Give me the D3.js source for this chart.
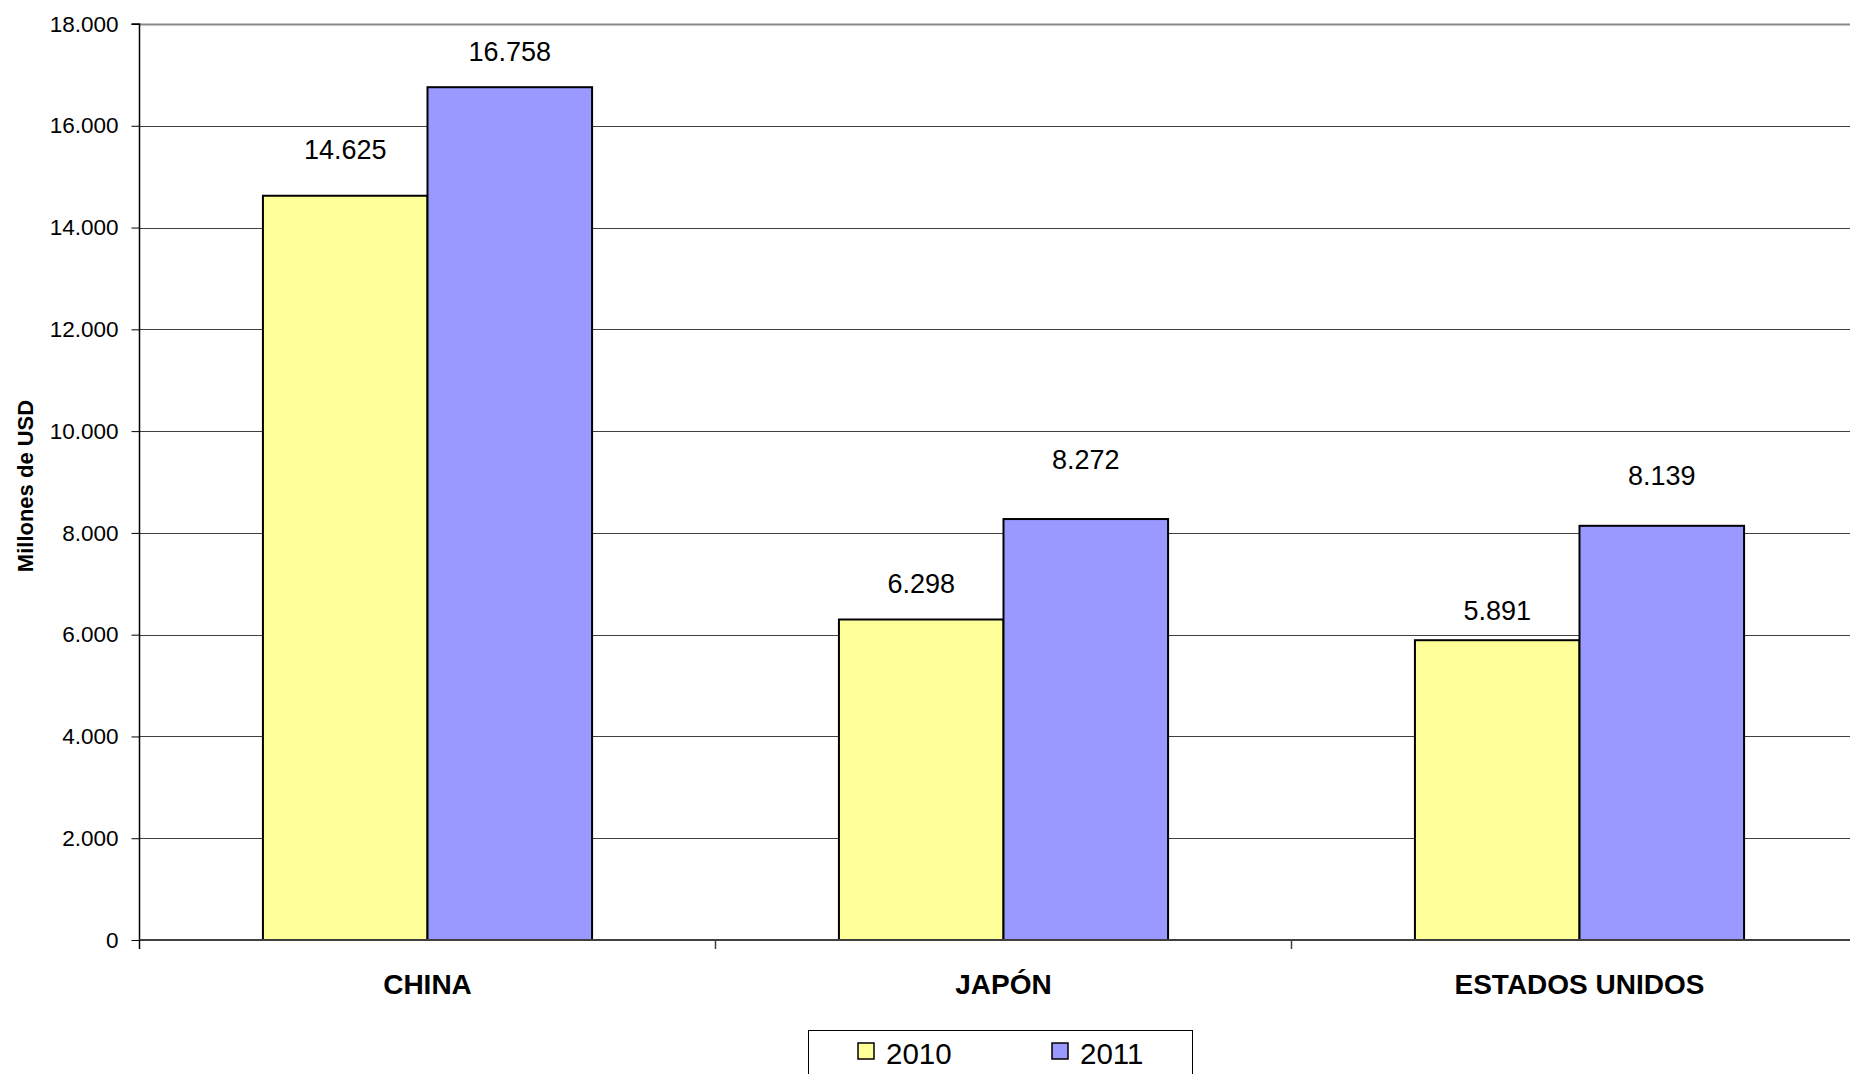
<!DOCTYPE html>
<html>
<head>
<meta charset="utf-8">
<script src="https://cdn.jsdelivr.net/npm/d3@7"></script>
<style>
  html, body { margin: 0; padding: 0; background: #fff; overflow: hidden; }
  svg { display: block; font-family: "Liberation Sans", Arial, sans-serif; }
</style>
</head>
<body>
<svg id="chart" width="1850" height="1074"></svg>
<script>
// ---- data ----
const categories = ["CHINA", "JAPÓN", "ESTADOS UNIDOS"];
const seriesNames = ["2010", "2011"];
const values2010 = [14625, 6298, 5891];
const values2011 = [16758, 8272, 8139];
const yTicks = [0, 2000, 4000, 6000, 8000, 10000, 12000, 14000, 16000, 18000];
const yTitle = "Millones de USD";

// ---- layout / style ----
const colors = ["#FFFF99", "#9999FF"];
const plot = { left: 139.5, top: 24, bottom: 940, catWidth: 576 };
const labelLift = [[37, 27, 20], [26, 50, 41]]; // px gap between bar top and label baseline

const svg = d3.select("#chart");
const fmt = v => d3.format(",")(v).replace(/,/g, ".");

const x0 = d3.scaleBand()
  .domain(categories)
  .range([plot.left, plot.left + plot.catWidth * categories.length])
  .paddingInner(0).paddingOuter(0);
// Excel gap width 150% -> two bars take 2/3.5 of category
const barW = x0.bandwidth() / 3.5;
const x1 = d3.scaleBand().domain(seriesNames).range([0, barW * 2]);
const y = d3.scaleLinear().domain([0, 18000]).range([plot.bottom, plot.top]);

// gridlines
svg.append("g").selectAll("line")
  .data(yTicks.filter(t => t > 0))
  .join("line")
  .attr("x1", plot.left).attr("x2", 1850)
  .attr("y1", d => Math.round(y(d)) + 0.5).attr("y2", d => Math.round(y(d)) + 0.5)
  .attr("stroke", d => d === 18000 ? "#8a8a8a" : "#404040")
  .attr("stroke-width", d => d === 18000 ? 2 : 1);

// y axis
const yAxis = d3.axisLeft(y).tickValues(yTicks).tickSize(8).tickPadding(13)
  .tickFormat(fmt);
const gy = svg.append("g").attr("transform", `translate(${plot.left},0)`).call(yAxis);
gy.select(".domain").attr("stroke", "#000").attr("stroke-width", 1.5).attr("d", `M-8,${plot.top}H0V${plot.bottom}`);
gy.selectAll(".tick line").attr("stroke", "#000");
gy.selectAll(".tick text")
  .attr("font-size", 22.5).attr("fill", "#000")
  .attr("font-family", "Liberation Sans, Arial, sans-serif");

// bars
const groups = [values2010, values2011];
seriesNames.forEach((s, si) => {
  svg.append("g").selectAll("rect")
    .data(categories.map((c, ci) => ({ c, v: groups[si][ci], ci })))
    .join("rect")
    .attr("x", d => x0(d.c) + (x0.bandwidth() - barW * 2) / 2 + x1(s))
    .attr("y", d => y(d.v))
    .attr("width", barW)
    .attr("height", d => y(0) - y(d.v))
    .attr("fill", colors[si])
    .attr("stroke", "#000")
    .attr("stroke-width", 2);
});

// x axis line and category ticks
const xAxis = d3.axisBottom(x0).tickSize(0).tickFormat(() => "");
const gx = svg.append("g").attr("transform", `translate(0,${plot.bottom})`).call(xAxis);
gx.select(".domain").attr("stroke", "#404040").attr("stroke-width", 2)
  .attr("d", `M${plot.left},0H1850`);
svg.append("g").selectAll("line")
  .data(categories.map((c, i) => i))
  .join("line")
  .attr("x1", (d, i) => plot.left + (i + 1) * x0.bandwidth())
  .attr("x2", (d, i) => plot.left + (i + 1) * x0.bandwidth())
  .attr("y1", plot.bottom).attr("y2", plot.bottom + 9)
  .attr("stroke", "#404040").attr("stroke-width", 1.5);
svg.append("line")
  .attr("x1", plot.left).attr("x2", plot.left)
  .attr("y1", plot.bottom).attr("y2", plot.bottom + 9)
  .attr("stroke", "#000").attr("stroke-width", 1.5);

// category labels
svg.append("g").selectAll("text")
  .data(categories)
  .join("text")
  .attr("x", d => x0(d) + x0.bandwidth() / 2)
  .attr("y", 994)
  .attr("text-anchor", "middle")
  .attr("font-size", 28).attr("font-weight", "bold").attr("fill", "#000")
  .text(d => d);

// value labels
seriesNames.forEach((s, si) => {
  svg.append("g").selectAll("text")
    .data(categories.map((c, ci) => ({ c, v: groups[si][ci], ci })))
    .join("text")
    .attr("x", d => x0(d.c) + (x0.bandwidth() - barW * 2) / 2 + x1(s) + barW / 2)
    .attr("y", d => y(d.v) - labelLift[si][d.ci])
    .attr("text-anchor", "middle")
    .attr("font-size", 27).attr("fill", "#000")
    .text(d => fmt(d.v));
});

// y title
svg.append("text")
  .attr("transform", `translate(${25 + 8},${(plot.top + plot.bottom) / 2 + 4}) rotate(-90)`)
  .attr("text-anchor", "middle")
  .attr("font-size", 22).attr("font-weight", "bold").attr("fill", "#000")
  .text(yTitle);

// legend
const lg = svg.append("g");
lg.append("rect")
  .attr("x", 808.5).attr("y", 1030.5).attr("width", 384).attr("height", 60)
  .attr("fill", "#fff").attr("stroke", "#000").attr("stroke-width", 1);
const legendX = [858, 1052];
seriesNames.forEach((s, si) => {
  lg.append("rect")
    .attr("x", legendX[si]).attr("y", 1043).attr("width", 16).attr("height", 16)
    .attr("fill", colors[si]).attr("stroke", "#000").attr("stroke-width", 1.5);
  lg.append("text")
    .attr("x", legendX[si] + 28).attr("y", 1064)
    .attr("font-size", 29.5).attr("fill", "#000")
    .text(s);
});
</script>
</body>
</html>
